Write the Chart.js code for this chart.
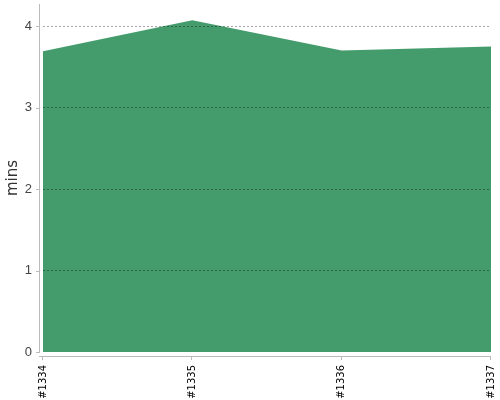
<!DOCTYPE html>
<html>
<head>
<meta charset="utf-8">
<script src="https://cdn.jsdelivr.net/npm/chart.js@4"></script>
<style>
  html, body { margin: 0; padding: 0; background: #fff; }
  #wrap { width: 500px; height: 400px; }
</style>
</head>
<body>
<div id="wrap"><canvas id="chart"></canvas></div>
<script>
// build numbers and duration in minutes
const builds = ['#1334', '#1335', '#1336', '#1337'];
const minutes = [3.69, 4.07, 3.70, 3.75];
const yTicks = [0, 1, 2, 3, 4];

// axis lines sit a few pixels away from the plot, drawn by hand
const offsetAxes = {
    id: 'offsetAxes',
    afterDraw(chart) {
        const c = chart.ctx;
        const a = chart.chartArea;
        const x = chart.scales.x;
        const y = chart.scales.y;
        c.save();
        c.strokeStyle = '#bbbbbb';
        c.lineWidth = 1;
        c.beginPath();
        c.moveTo(a.left - 3.5, a.top);
        c.lineTo(a.left - 3.5, a.bottom + 1);
        yTicks.forEach(v => {
            const py = Math.round(y.getPixelForValue(v)) + 0.5;
            c.moveTo(a.left - 7, py);
            c.lineTo(a.left - 3.5, py);
        });
        c.moveTo(a.left - 4, a.bottom + 4.5);
        c.lineTo(a.right, a.bottom + 4.5);
        builds.forEach((b, i) => {
            const px = Math.round(x.getPixelForValue(i)) - 0.5;
            c.moveTo(px, a.bottom + 4.5);
            c.lineTo(px, a.bottom + 8);
        });
        c.stroke();
        c.restore();
    }
};

new Chart(document.getElementById('chart'), {
    type: 'line',
    data: {
        labels: builds,
        datasets: [{
            data: minutes,
            fill: 'origin',
            backgroundColor: 'rgb(68,156,108)',
            borderWidth: 0,
            pointRadius: 0,
            tension: 0
        }]
    },
    plugins: [offsetAxes],
    options: {
        responsive: true,
        maintainAspectRatio: false,
        animation: false,
        layout: { padding: { top: 4, right: 9, left: 0, bottom: 0 } },
        plugins: {
            legend: { display: false },
            tooltip: { enabled: false }
        },
        scales: {
            x: {
                offset: false,
                grid: { display: false, drawTicks: false },
                border: { display: false },
                afterFit(s) {
                    s.height = 48;
                    s.paddingLeft = 0;
                    s.paddingRight = 0;
                },
                ticks: {
                    minRotation: 90,
                    maxRotation: 90,
                    padding: 13,
                    color: '#000',
                    font: { family: 'DejaVu Sans', size: 10 }
                }
            },
            y: {
                min: 0,
                max: 4.27,
                afterFit(s) {
                    s.width = 43;
                    s.paddingTop = 0;
                    s.paddingBottom = 0;
                },
                afterBuildTicks(s) {
                    s.ticks = yTicks.map(v => ({ value: v }));
                },
                border: { display: false, dash: [2, 2] },
                grid: {
                    z: 1, // gridlines over the filled area
                    color: ctx => ctx.tick && ctx.tick.value === 0 ? 'rgba(0,0,0,0)' : 'rgba(0,0,0,0.35)',
                    drawTicks: false
                },
                ticks: {
                    padding: 11,
                    color: '#444',
                    font: { family: 'Liberation Sans', size: 13 }
                },
                title: {
                    display: true,
                    text: 'mins',
                    color: '#333',
                    padding: { top: 4, bottom: 0 },
                    font: { family: 'DejaVu Sans', size: 15 }
                }
            }
        }
    }
});
</script>
</body>
</html>
